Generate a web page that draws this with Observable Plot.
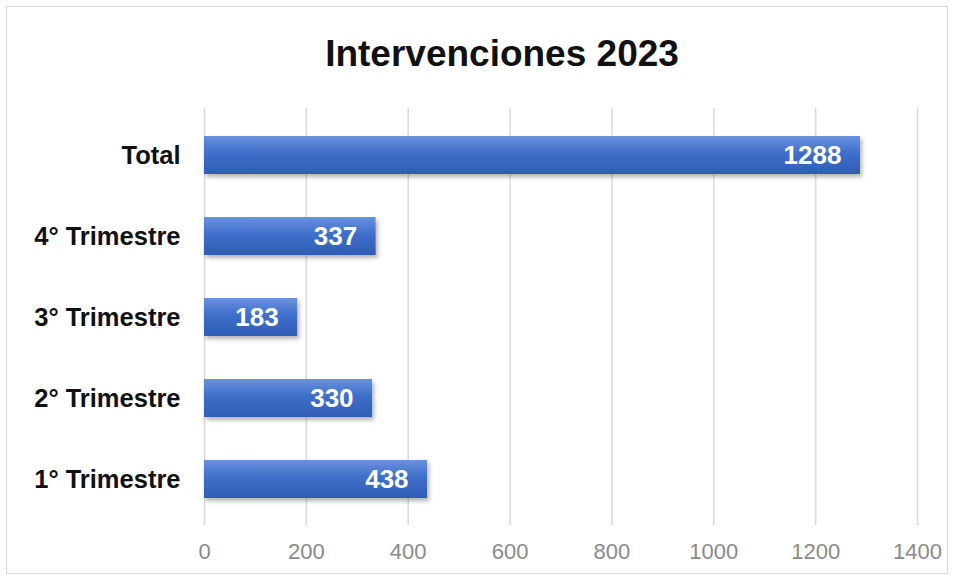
<!DOCTYPE html>
<html>
<head>
<meta charset="utf-8">
<script src="https://cdn.jsdelivr.net/npm/d3@7"></script>
<script src="https://cdn.jsdelivr.net/npm/@observablehq/plot@0.6"></script>
<style>
  html, body { margin: 0; padding: 0; background: #fff; }
  #wrap { position: relative; width: 958px; height: 580px; overflow: hidden; }
  #frame { position: absolute; left: 6px; top: 6px; width: 942px; height: 568px; border: 1.5px solid #d9d9d9; box-sizing: border-box; }
  #title { position: absolute; left: 23px; top: 32px; width: 958px; text-align: center; font-family: "Liberation Sans", Arial, sans-serif; font-weight: bold; font-size: 37px; line-height: 44px; color: #111; }
  #chart { position: absolute; left: 0; top: 99px; }
</style>
</head>
<body>
<div id="wrap">
  <div id="frame"></div>
  <div id="title">Intervenciones 2023</div>
  <div id="chart"></div>
</div>
<script>
const categories = ["Total", "4° Trimestre", "3° Trimestre", "2° Trimestre", "1° Trimestre"];
const values = [1288, 337, 183, 330, 438];
const xTicks = [0, 200, 400, 600, 800, 1000, 1200, 1400];

const data = categories.map((c, i) => ({category: c, value: values[i]}));

const plot = Plot.plot({
  width: 958,
  height: 475,
  marginTop: 9,
  marginBottom: 49,
  marginLeft: 204,
  marginRight: 41,
  style: {background: "transparent", overflow: "visible"},
  x: {domain: [0, 1400], ticks: xTicks, grid: false, label: null},
  y: {domain: categories, paddingInner: 0.535, paddingOuter: 0.318, label: null},
  marks: [
    Plot.ruleX(xTicks, {stroke: "#d9d9d9", strokeWidth: 1.5, strokeOpacity: 1}),
    Plot.barX(data, {x: "value", y: "category", fill: "url(#barGrad)"}),
    Plot.text(data, {x: "value", y: "category", text: d => String(d.value), textAnchor: "end", dx: -19, dy: 0, fill: "white", fontWeight: "bold", fontSize: 26, fontFamily: "Liberation Sans, Arial, sans-serif"}),
    Plot.axisY({tickSize: 0, tickPadding: 24, fontSize: 25.5, fontWeight: "bold", fill: "#111", fontFamily: "Liberation Sans, Arial, sans-serif", label: null}),
    Plot.axisX({ticks: xTicks, tickFormat: d => String(d), tickSize: 0, tickPadding: 18, fontSize: 22, fill: "#8a8a8a", fontFamily: "Liberation Sans Narrow, Liberation Sans, sans-serif", label: null})
  ]
});

const svg = d3.select(plot);
const defs = svg.insert("defs", ":first-child");
const g = defs.append("linearGradient").attr("id", "barGrad").attr("x1", 0).attr("y1", 0).attr("x2", 0).attr("y2", 1);
g.append("stop").attr("offset", "0%").attr("stop-color", "#6a92dc");
g.append("stop").attr("offset", "45%").attr("stop-color", "#3e6fcb");
g.append("stop").attr("offset", "100%").attr("stop-color", "#2f5db5");
const f = defs.append("filter").attr("id", "shadow").attr("x", "-5%").attr("y", "-20%").attr("width", "115%").attr("height", "160%");
f.append("feDropShadow").attr("dx", 2).attr("dy", 3).attr("stdDeviation", 2).attr("flood-color", "#000").attr("flood-opacity", 0.3);
svg.selectAll("rect").filter(function() { return d3.select(this).attr("fill") === "url(#barGrad)" || (this.parentNode && d3.select(this.parentNode).attr("fill") === "url(#barGrad)"); }).attr("filter", "url(#shadow)");

document.getElementById("chart").appendChild(plot);
</script>
</body>
</html>
